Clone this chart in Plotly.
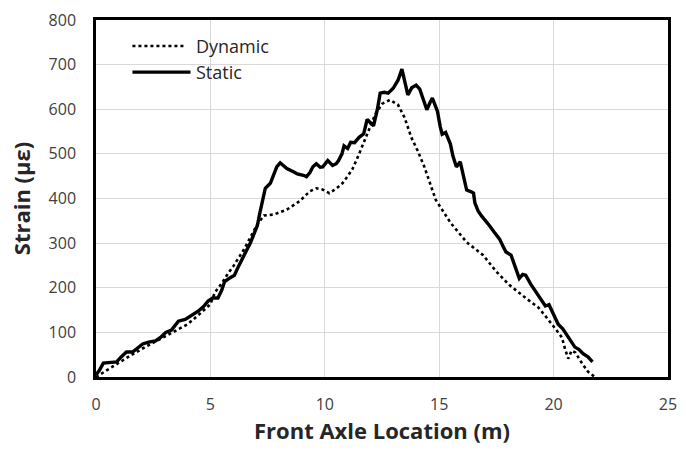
import plotly.graph_objects as go

static_x = [0, 0.15, 0.32, 0.6, 0.9, 1.1, 1.33, 1.6, 1.8, 2.04, 2.3, 2.6, 2.85, 3.05, 3.3, 3.6, 3.9, 4.2, 4.48, 4.7,
            4.9, 5.1, 5.33, 5.5, 5.62, 5.85, 6.05, 6.2, 6.33, 6.55, 6.76, 6.9, 7.05, 7.15, 7.27, 7.4, 7.62, 7.75, 7.9, 8.05,
            8.2, 8.34, 8.63, 8.8, 9.06, 9.2, 9.35, 9.48, 9.63, 9.8, 9.91, 10.13, 10.34, 10.5, 10.6, 10.75, 10.84, 11.0, 11.13, 11.3,
            11.5, 11.7, 11.85, 12.0, 12.13, 12.3, 12.42, 12.6, 12.77, 12.99, 13.2, 13.37, 13.5, 13.63, 13.8, 13.99, 14.15, 14.3, 14.46, 14.6,
            14.7, 14.8, 14.92, 15.05, 15.13, 15.28, 15.49, 15.6, 15.75, 15.92, 16.05, 16.2, 16.4, 16.5, 16.56, 16.7, 16.85, 17.0, 17.2, 17.4,
            17.64, 17.8, 17.92, 18.14, 18.3, 18.5, 18.65, 18.78, 19.0, 19.2, 19.4, 19.64, 19.8, 20.0, 20.2, 20.4, 20.64, 20.8, 20.93, 21.1,
            21.29, 21.5, 21.7]
static_y = [5, 15, 31, 33, 34, 45, 56, 56, 65, 74, 78, 81, 90, 100, 105, 125, 129, 138, 148, 158,
            170, 177, 177, 195, 214, 222, 228, 245, 258, 280, 302, 320, 339, 365, 395, 423, 434, 452, 471, 480,
            472, 467, 460, 455, 452, 449, 458, 471, 478, 470, 471, 485, 474, 478, 485, 500, 518, 512, 526, 525,
            537, 545, 577, 568, 563, 600, 636, 638, 636, 647, 665, 690, 660, 632, 648, 654, 645, 620, 599, 615,
            625, 612, 596, 560, 544, 548, 522, 495, 471, 482, 450, 419, 415, 412, 390, 372, 361, 352, 339, 325,
            309, 292, 280, 273, 248, 221, 230, 228, 208, 192, 178, 159, 162, 140, 118, 108, 89, 76, 67, 62,
            52, 45, 34]

dynamic_x = [0, 0.3, 0.6, 1.0, 1.5, 2.0, 2.5, 3.0, 3.5, 4.0, 4.5, 5.0, 5.2, 5.5, 5.77, 6.0, 6.48, 7.05, 7.34, 7.77,
             8.34, 8.9, 9.34, 9.63, 9.9, 10.2, 10.5, 10.77, 11.0, 11.2, 11.5, 11.77, 12.0, 12.2, 12.5, 12.85, 13.2, 13.49, 13.78, 14.06,
             14.35, 14.63, 14.85, 15.0, 15.49, 16.2, 16.92, 17.5, 18.07, 18.78, 19.35, 19.93, 20.36, 20.5, 20.64, 20.78, 20.95, 21.2, 21.5, 21.8]
dynamic_y = [0, 10, 20, 33, 48, 63, 77, 90, 105, 118, 140, 163, 190, 210, 232, 248, 287, 342, 362, 364,
             375, 394, 416, 423, 420, 412, 422, 434, 450, 465, 500, 535, 565, 588, 612, 621, 610, 581, 537, 507,
             471, 427, 397, 385, 346, 302, 273, 236, 206, 177, 155, 118, 89, 63, 41, 59, 55, 34, 12, 0]

series_names = ["Dynamic", "Static"]
x_ticks = [0, 5, 10, 15, 20, 25]
y_ticks = [0, 100, 200, 300, 400, 500, 600, 700, 800]

FONT = "Open Sans"

fig = go.Figure()
fig.add_trace(go.Scatter(x=dynamic_x, y=dynamic_y, mode="lines", name=series_names[0],
                         line=dict(color="black", width=2.6, dash="dot"), showlegend=False))
fig.add_trace(go.Scatter(x=static_x, y=static_y, mode="lines", name=series_names[1],
                         line=dict(color="black", width=3.4), showlegend=False))

# custom legend (line samples + labels)
legend_rows = [(series_names[0], "dot", 2.6, 40.5, 186), (series_names[1], "solid", 3.4, 67, 192)]
for name, dash, w, ypx, xend in legend_rows:
    yp = 1 - (ypx - 14) / (377 - 14)
    x0 = (133 - 96) / (677 - 96)
    x1 = (xend - 96) / (677 - 96)
    fig.add_shape(type="line", xref="paper", yref="paper", x0=x0, x1=x1, y0=yp, y1=yp,
                  line=dict(color="black", width=w, dash=dash))
    fig.add_annotation(xref="paper", yref="paper", x=(196 - 96) / (677 - 96), y=yp, text=name,
                       showarrow=False, xanchor="left", yanchor="middle",
                       font=dict(family=FONT, size=18, color="#262626"))

axis_common = dict(showgrid=True, gridcolor="#d9d9d9", gridwidth=1, zeroline=False,
                   showline=True, linecolor="black", linewidth=2.5, mirror=True, ticks="",
                   tickfont=dict(family=FONT, size=16, color="#404040"))

fig.update_xaxes(range=[0, 25], tickvals=x_ticks, ticklabelstandoff=11,
                 title=dict(text="Front Axle Location (m)", standoff=6,
                            font=dict(family=FONT, size=22, color="#262626", weight="bold")),
                 **axis_common)
fig.update_yaxes(range=[0, 800], tickvals=y_ticks, ticklabelstandoff=14,
                 title=dict(text="Strain (με)", standoff=12,
                            font=dict(family=FONT, size=22, color="#262626", weight="bold")),
                 **axis_common)

fig.update_layout(width=686, height=452, margin=dict(l=96, r=9, t=14, b=75),
                  plot_bgcolor="white", paper_bgcolor="white")

fig.write_html("out.html")
